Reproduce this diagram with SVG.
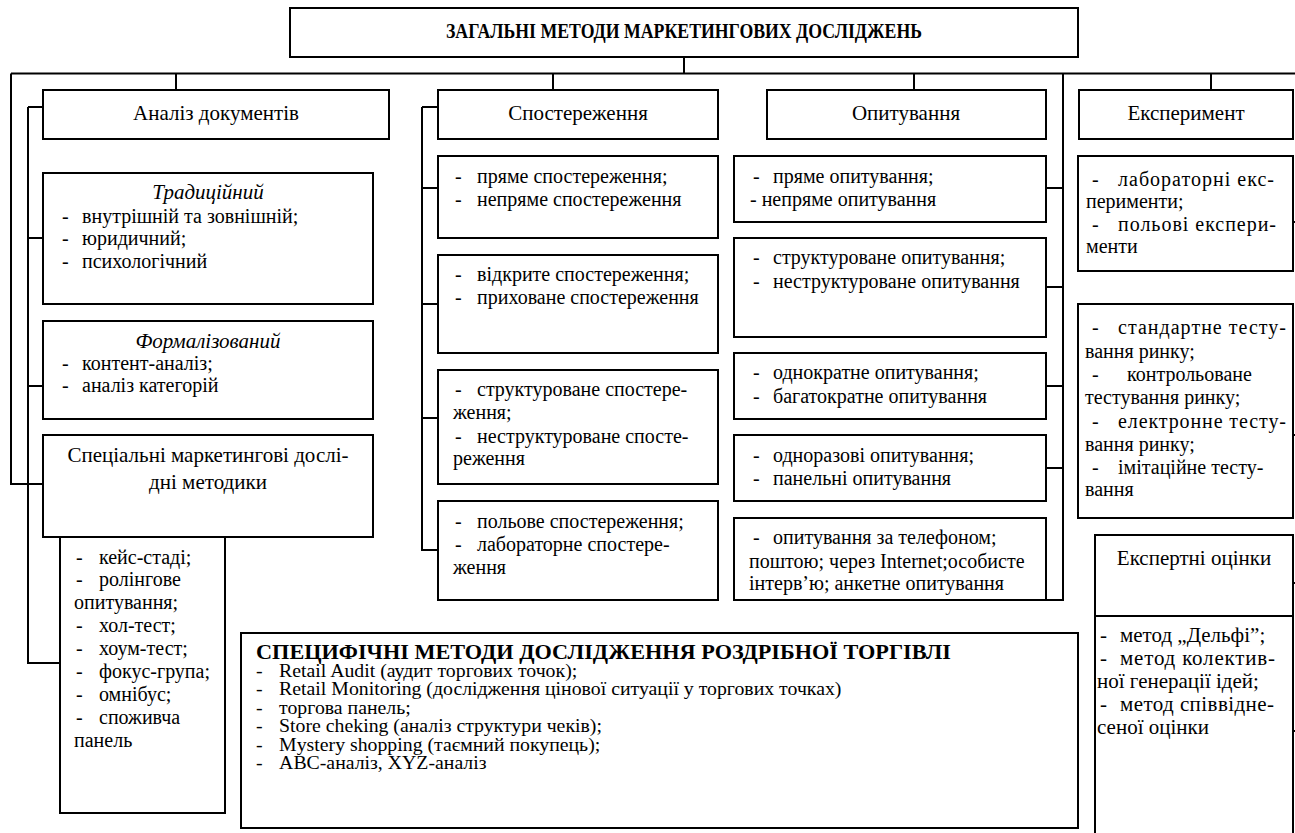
<svg xmlns="http://www.w3.org/2000/svg" width="1295" height="833" viewBox="0 0 1295 833">
<style>
.b{fill:#fff;stroke:#000;stroke-width:2}
.l{fill:none;stroke:#000;stroke-width:2}
text{font-family:"Liberation Serif","Times New Roman",serif;font-size:20px;fill:#000}
.h{font-size:21px}
.c{text-anchor:middle}
.i{font-style:italic}
.bold{font-weight:bold}
.r{font-size:18px}
.x{font-size:21px}
</style>
<rect width="1295" height="833" fill="#fff"/>
<g id="connectors">
<path class="l" d="M684 57V73.5M11 73.5H1295M11 73.5V484H43M176 73.5V90M553 73.5V90M914 73.5V90M1211 73.5V90"/>
<path class="l" d="M28 107V663H60M28 107H43M28 238H43M28 386H43"/>
<path class="l" d="M422 107V550H438M422 107H438M422 188H438M422 304H438M422 418H438"/>
<path class="l" d="M1063 73.5V600H1046M1063 188H1046M1063 287H1046M1063 386H1046M1063 468H1046"/>
<path class="l" d="M1293 222H1295M1293 435H1295M1293 583H1295M1293 731H1295"/>
</g>
<g id="title"><rect class="b" x="290" y="8" width="788" height="49"/><text class="bold c" x="684" y="38" font-size="17.5" textLength="476" lengthAdjust="spacingAndGlyphs">ЗАГАЛЬНІ МЕТОДИ МАРКЕТИНГОВИХ ДОСЛІДЖЕНЬ</text></g>
<g id="analiz"><rect class="b" x="43" y="90" width="346" height="49"/><text class="h c" x="216" y="120">Аналіз документів</text></g>
<g id="sposter"><rect class="b" x="438" y="90" width="280" height="49"/><text class="h c" x="578" y="120">Спостереження</text></g>
<g id="opyt"><rect class="b" x="767" y="90" width="279" height="49"/><text class="h c" x="906" y="120">Опитування</text></g>
<g id="eksper"><rect class="b" x="1079" y="90" width="214" height="49"/><text class="h c" x="1186" y="120">Експеримент</text></g>

<g id="trad"><rect class="b" x="43" y="173" width="330" height="131"/>
<text class="h c i" x="208" y="199">Традиційний</text>
<text y="223"><tspan x="62">-</tspan><tspan x="82">внутрішній та зовнішній;</tspan></text>
<text y="245"><tspan x="62">-</tspan><tspan x="82">юридичний;</tspan></text>
<text y="268"><tspan x="62">-</tspan><tspan x="82">психологічний</tspan></text></g>
<g id="form"><rect class="b" x="43" y="321" width="330" height="98"/>
<text class="h c i" x="208" y="348">Формалізований</text>
<text y="370"><tspan x="62">-</tspan><tspan x="82">контент-аналіз;</tspan></text>
<text y="392"><tspan x="62">-</tspan><tspan x="82">аналіз категорій</tspan></text></g>
<g id="spec"><rect class="b" x="43" y="435" width="330" height="102"/>
<text class="h c" x="208" y="462">Спеціальні маркетингові дослі-</text>
<text class="h c" x="208" y="489">дні методики</text></g>
<g id="speclist"><rect class="b" x="60" y="537" width="165" height="276"/>
<text y="564"><tspan x="76">-</tspan><tspan x="99">кейс-стаді;</tspan></text>
<text y="586"><tspan x="76">-</tspan><tspan x="99">ролінгове</tspan></text>
<text x="74" y="609">опитування;</text>
<text y="632"><tspan x="76">-</tspan><tspan x="99">хол-тест;</tspan></text>
<text y="655"><tspan x="76">-</tspan><tspan x="99">хоум-тест;</tspan></text>
<text y="678"><tspan x="76">-</tspan><tspan x="99">фокус-група;</tspan></text>
<text y="701"><tspan x="76">-</tspan><tspan x="99">омнібус;</tspan></text>
<text y="724"><tspan x="76">-</tspan><tspan x="99">споживча</tspan></text>
<text x="74" y="747">панель</text></g>

<g id="sp1"><rect class="b" x="438" y="156" width="280" height="82"/>
<text y="183"><tspan x="455">-</tspan><tspan x="477">пряме спостереження;</tspan></text>
<text y="206"><tspan x="455">-</tspan><tspan x="477">непряме спостереження</tspan></text></g>
<g id="sp2"><rect class="b" x="438" y="255" width="280" height="98"/>
<text y="281"><tspan x="455">-</tspan><tspan x="477">відкрите спостереження;</tspan></text>
<text y="304"><tspan x="455">-</tspan><tspan x="477">приховане спостереження</tspan></text></g>
<g id="sp3"><rect class="b" x="438" y="370" width="280" height="114"/>
<text y="396"><tspan x="455">-</tspan><tspan x="477">структуроване спостере-</tspan></text>
<text x="453" y="419">ження;</text>
<text y="443"><tspan x="455">-</tspan><tspan x="477">неструктуроване спосте-</tspan></text>
<text x="453" y="465">реження</text></g>
<g id="sp4"><rect class="b" x="438" y="501" width="280" height="99"/>
<text y="528"><tspan x="455">-</tspan><tspan x="477">польове спостереження;</tspan></text>
<text y="551"><tspan x="455">-</tspan><tspan x="477">лабораторне спостере-</tspan></text>
<text x="453" y="574">ження</text></g>

<g id="op1"><rect class="b" x="734" y="156" width="312" height="66"/>
<text y="183"><tspan x="753">-</tspan><tspan x="773">пряме опитування;</tspan></text>
<text x="750" y="206">- непряме опитування</text></g>
<g id="op2"><rect class="b" x="734" y="238" width="312" height="99"/>
<text y="264"><tspan x="753">-</tspan><tspan x="773">структуроване опитування;</tspan></text>
<text y="288"><tspan x="753">-</tspan><tspan x="773">неструктуроване опитування</tspan></text></g>
<g id="op3"><rect class="b" x="734" y="353" width="312" height="66"/>
<text y="379"><tspan x="753">-</tspan><tspan x="773">однократне опитування;</tspan></text>
<text y="403"><tspan x="753">-</tspan><tspan x="773">багатократне опитування</tspan></text></g>
<g id="op4"><rect class="b" x="734" y="435" width="312" height="66"/>
<text y="462"><tspan x="753">-</tspan><tspan x="773">одноразові опитування;</tspan></text>
<text y="485"><tspan x="753">-</tspan><tspan x="773">панельні опитування</tspan></text></g>
<g id="op5"><rect class="b" x="734" y="518" width="312" height="82"/>
<text y="544"><tspan x="753">-</tspan><tspan x="773">опитування за телефоном;</tspan></text>
<text x="749" y="568">поштою; через Internet;особисте</text>
<text x="749" y="590">інтерв’ю; анкетне опитування</text></g>

<g id="lab"><rect class="b" x="1078" y="156" width="215" height="115"/>
<text y="186"><tspan x="1092">-</tspan><tspan x="1118" textLength="156" lengthAdjust="spacing">лабораторні екс-</tspan></text>
<text x="1086" y="208">перименти;</text>
<text y="231"><tspan x="1092">-</tspan><tspan x="1118" textLength="158" lengthAdjust="spacing">польові експери-</tspan></text>
<text x="1086" y="253">менти</text></g>
<g id="test"><rect class="b" x="1078" y="304" width="215" height="214"/>
<text y="334"><tspan x="1092">-</tspan><tspan x="1118" textLength="168" lengthAdjust="spacing">стандартне  тесту-</tspan></text>
<text x="1085" y="358">вання ринку;</text>
<text y="381"><tspan x="1092">-</tspan><tspan x="1127">контрольоване</tspan></text>
<text x="1085" y="404">тестування ринку;</text>
<text y="428"><tspan x="1092">-</tspan><tspan x="1118" textLength="168" lengthAdjust="spacing">електронне тесту-</tspan></text>
<text x="1085" y="451">вання ринку;</text>
<text y="474"><tspan x="1092">-</tspan><tspan x="1118">імітаційне тесту-</tspan></text>
<text x="1085" y="496">вання</text></g>
<g id="ekspert"><rect class="b" x="1095" y="535" width="198" height="310"/>
<path class="l" d="M1095 616H1293"/>
<text class="h c" x="1194" y="565">Експертні оцінки</text>
<text class="x" y="642"><tspan x="1100">-</tspan><tspan x="1120">метод „Дельфі”;</tspan></text>
<text class="x" y="665"><tspan x="1100">-</tspan><tspan x="1120" textLength="155" lengthAdjust="spacing">метод колектив-</tspan></text>
<text class="x" x="1097" y="688">ної генерації ідей;</text>
<text class="x" y="711"><tspan x="1100">-</tspan><tspan x="1120" textLength="154" lengthAdjust="spacing">метод співвідне-</tspan></text>
<text class="x" x="1097" y="734">сеної оцінки</text></g>

<g id="retail"><rect class="b" x="241" y="633" width="837" height="195"/>
<text class="bold" x="256" y="659" font-size="20" textLength="695" lengthAdjust="spacingAndGlyphs">СПЕЦИФІЧНІ МЕТОДИ ДОСЛІДЖЕННЯ РОЗДРІБНОЇ ТОРГІВЛІ</text>
<g transform="translate(256 0) scale(1.1 1) translate(-256 0)">
<text class="r" y="677"><tspan x="256">-</tspan><tspan x="277">Retail Audit (аудит торгових точок);</tspan></text>
<text class="r" y="695.4"><tspan x="256">-</tspan><tspan x="277">Retail Monitoring (дослідження цінової ситуації у торгових точках)</tspan></text>
<text class="r" y="713.8"><tspan x="256">-</tspan><tspan x="277">торгова панель;</tspan></text>
<text class="r" y="732.2"><tspan x="256">-</tspan><tspan x="277">Store cheking (аналіз структури чеків);</tspan></text>
<text class="r" y="750.6"><tspan x="256">-</tspan><tspan x="277">Mystery shopping (таємний покупець);</tspan></text>
<text class="r" y="769"><tspan x="256">-</tspan><tspan x="277">ABC-аналіз,  XYZ-аналіз</tspan></text>
</g></g>
</svg>
